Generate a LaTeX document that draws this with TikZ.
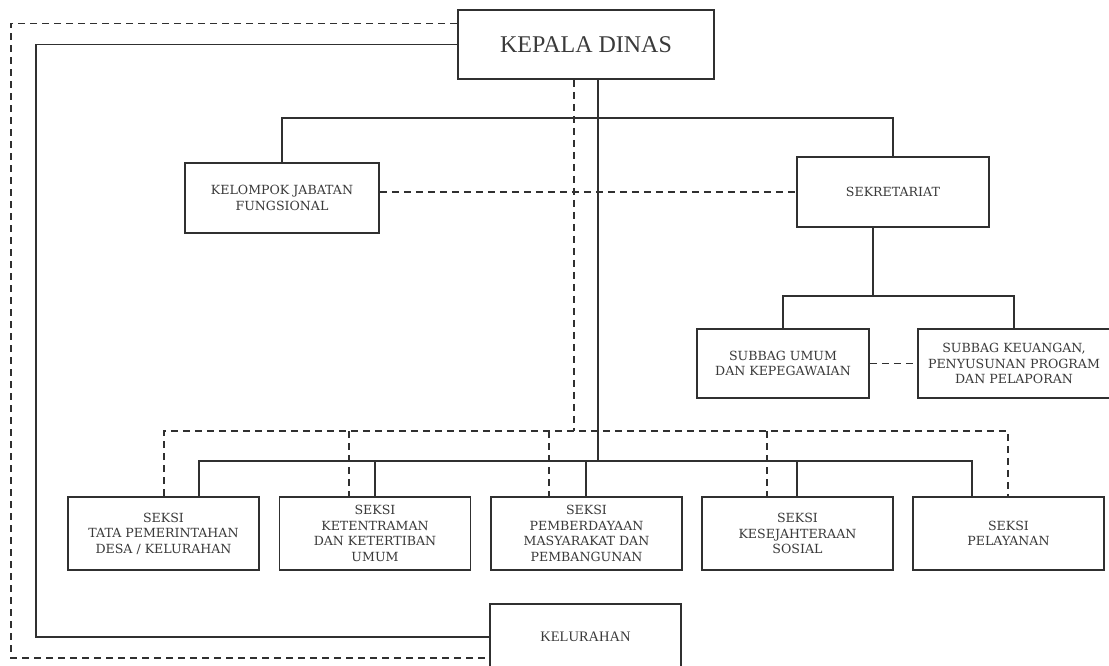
\documentclass[tikz,border=0pt]{standalone}
\usepackage{fontspec}
\setmainfont{DejaVu Serif}
\newfontfamily\timesf{Liberation Serif}
\definecolor{linec}{HTML}{303030}
\definecolor{textc}{HTML}{3A3A3A}
\begin{document}
\begin{tikzpicture}[x=1pt,y=-1pt,
  box/.style={draw=linec, line width=1.8pt, fill=white, text=textc, align=center, inner sep=0pt,
    font=\fontsize{12.6}{15.6}\selectfont},
  conn/.style={draw=linec, line width=1.8pt},
  dconn/.style={conn, dash pattern=on 7pt off 5pt}]
\useasboundingbox (0,0) rectangle (1109,665);
\clip (0,0) rectangle (1109,665);
% nodes
\node[box, minimum width=256pt, minimum height=69pt, font=\timesf\fontsize{24}{28}\selectfont] (kd) at (586,44.5) {KEPALA DINAS};
\node[box, minimum width=194pt, minimum height=70pt] (kjf) at (282,198) {KELOMPOK JABATAN\\FUNGSIONAL};
\node[box, minimum width=192pt, minimum height=70pt] (sek) at (893,192) {SEKRETARIAT};
\node[box, minimum width=172pt, minimum height=69pt] (su) at (783,363.5) {SUBBAG UMUM\\DAN KEPEGAWAIAN};
\node[box, minimum width=192pt, minimum height=69pt] (sk) at (1014,363.5) {SUBBAG KEUANGAN,\\PENYUSUNAN PROGRAM\\DAN PELAPORAN};
\node[box, minimum width=191pt, minimum height=73pt] (b1) at (163.5,533.5) {SEKSI\\TATA PEMERINTAHAN\\DESA / KELURAHAN};
\node[box, minimum width=191pt, minimum height=73pt] (b2) at (375,533.5) {SEKSI\\KETENTRAMAN\\DAN KETERTIBAN\\UMUM};
\node[box, minimum width=191pt, minimum height=73pt] (b3) at (586.5,533.5) {SEKSI\\PEMBERDAYAAN\\MASYARAKAT DAN\\PEMBANGUNAN};
\node[box, minimum width=191pt, minimum height=73pt] (b4) at (797.5,533.5) {SEKSI\\KESEJAHTERAAN\\SOSIAL};
\node[box, minimum width=191pt, minimum height=73pt] (b5) at (1008.5,533.5) {SEKSI\\PELAYANAN};
\node[box, minimum width=191pt, minimum height=66pt, font=\timesf\fontsize{14.5}{17}\selectfont] (kel) at (585.5,637) {KELURAHAN};
% coordinates
\coordinate (topbus) at (0,118);
\coordinate (mainS) at (598,461);
\coordinate (mainD) at (574,431);
\coordinate (sv) at (873,296);
\coordinate (ls) at (36,0);
\coordinate (ld) at (11,23.5);
\coordinate (bd) at (0,658);
\coordinate (s1) at (199,461);
\coordinate (s2) at (375,461);
\coordinate (s3) at (586,461);
\coordinate (s4) at (797,461);
\coordinate (s5) at (972,461);
\coordinate (d1) at (164,431);
\coordinate (d2) at (349,431);
\coordinate (d3) at (549,431);
\coordinate (d4) at (767,431);
\coordinate (d5) at (1008,431);
% top tree
\draw[conn] (kjf.north) -- (kjf.north |- topbus) -- (sek.north |- topbus) -- (sek.north);
\draw[conn] (mainS |- kd.south) -- (mainS);
\draw[dconn] (mainD |- kd.south) -- (mainD);
\draw[dconn] (kjf.east |- sek.west) -- (sek.west);
% sekretariat subtree
\draw[conn] (sv |- sek.south) -- (sv);
\draw[conn] (su.north) -- (su.north |- sv) -- (sk.north |- sv) -- (sk.north);
\draw[dconn] (su.east) -- (sk.west);
% seksi buses
\draw[conn] (s1 |- b1.north) -- (s1) -- (s5) -- (s5 |- b5.north);
\draw[conn] (s2) -- (s2 |- b2.north);
\draw[conn] (s3) -- (s3 |- b3.north);
\draw[conn] (s4) -- (s4 |- b4.north);
\draw[dconn] (d1 |- b1.north) -- (d1) -- (d5) -- (d5 |- b5.north);
\draw[dconn] (d2) -- (d2 |- b2.north);
\draw[dconn] (d3) -- (d3 |- b3.north);
\draw[dconn] (d4) -- (d4 |- b4.north);
% kelurahan links
\draw[conn] (kd.west) -- (kd.west -| ls) -- (kel.west -| ls) -- (kel.west);
\draw[dconn] (ld -| kd.west) -- (ld) -- (ld |- bd) -- (kel.west |- bd);
\end{tikzpicture}
\end{document}
